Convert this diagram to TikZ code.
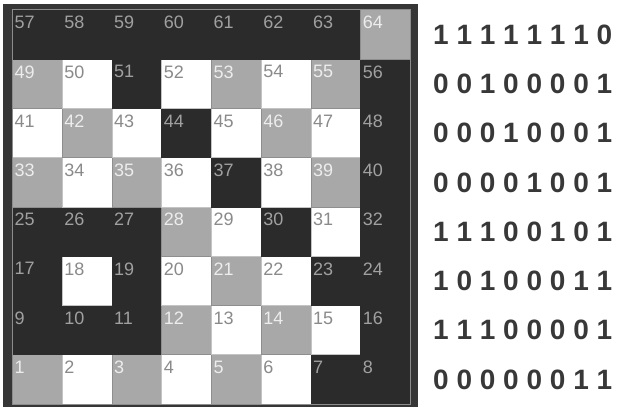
\documentclass[tikz,border=0pt]{standalone}
\usepackage{fontspec}
\setmainfont{Liberation Sans}
\usetikzlibrary{positioning}
\definecolor{framegray}{HTML}{363636}
\definecolor{fillk}{HTML}{2B2B2B}
\definecolor{fillw}{HTML}{FFFFFF}
\definecolor{fillg}{HTML}{A8A8A8}
\definecolor{edgek}{HTML}{2B2B2B}
\definecolor{edgew}{HTML}{C4C4C4}
\definecolor{edgeg}{HTML}{8E8E8E}
\definecolor{numk}{HTML}{A0A0A0}
\definecolor{numw}{HTML}{8A8A8A}
\definecolor{numg}{HTML}{EDEDED}
\definecolor{bitgray}{HTML}{383838}

\begin{document}
\begin{tikzpicture}[x=1pt,y=1pt]
\tikzstyle{cell}=[line width=0.5pt,minimum width=49.75pt,minimum height=49.25pt,inner sep=0pt,anchor=south west]
\tikzstyle{num}=[inner sep=0pt,anchor=north west,font=\fontsize{18}{18}\selectfont]
\tikzstyle{bits}=[inner sep=0pt,anchor=west,text=bitgray,font=\fontsize{28}{28}\selectfont\bfseries]
\useasboundingbox (0,0) rectangle (620,410);
\fill[framegray] (3,3) rectangle (418,406);
% board, bottom row first: k = black, w = white, g = gray
\foreach \row/\cols/\bits in {0/{g,w,g,w,g,w,k,k}/{0 0 0 0 0 0 1 1},
  1/{k,k,k,g,w,g,w,k}/{1 1 1 0 0 0 0 1},
  2/{k,w,k,w,g,w,k,k}/{1 0 1 0 0 0 1 1},
  3/{k,k,k,g,w,k,w,k}/{1 1 1 0 0 1 0 1},
  4/{g,w,g,w,k,w,g,k}/{0 0 0 0 1 0 0 1},
  5/{w,g,w,k,w,g,w,k}/{0 0 0 1 0 0 0 1},
  6/{g,w,k,w,g,w,g,k}/{0 0 1 0 0 0 0 1},
  7/{k,k,k,k,k,k,k,g}/{1 1 1 1 1 1 1 0}}{
  \foreach \c [count=\col from 0] in \cols {
    \pgfmathtruncatemacro\n{8*\row+\col+1}
    \node[cell,fill=fill\c,draw=edge\c] (c\n) at (12+49.75*\col,6+49.25*\row) {};
    \node[num,text=num\c] (n\n) at ([xshift=2.5pt,yshift=-6.5pt]c\n.north west) {\n};
  }
  \node[bits] (b\row) at (433,30.6+49.25*\row) {\bits};
}
\draw[black!45,line width=0.5pt] (c1.south west) rectangle (c64.north east);
\end{tikzpicture}
\end{document}
